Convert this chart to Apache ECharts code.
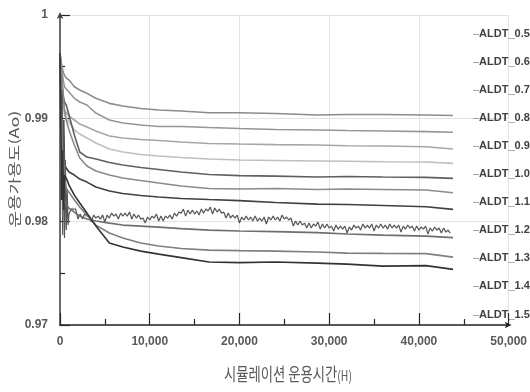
<!DOCTYPE html>
<html>
<head>
<meta charset="utf-8">
<script src="https://cdn.jsdelivr.net/npm/echarts@6/dist/echarts.min.js"></script>
<style>
html,body{margin:0;padding:0;background:#fff;}
#chart{width:530px;height:392px;}
</style>
</head>
<body>
<div id="chart"></div>
<script>
// ---- data ----
const seriesNames = ['ALDT_0.5','ALDT_0.6','ALDT_0.7','ALDT_0.8','ALDT_0.9','ALDT_1.0','ALDT_1.1','ALDT_1.2','ALDT_1.3','ALDT_1.4','ALDT_1.5'];
const xTicks = [0, 10000, 20000, 30000, 40000, 50000];
const yTicks = [0.97, 0.98, 0.99, 1];

const timeMain = [0, 100, 200, 300, 400, 500, 700, 1000, 1600, 2200, 3000, 4000, 5500, 7000, 9000, 11000, 13500, 16600, 20000, 24000, 28700, 32000, 36000, 40800, 43800];

const aldt05 = [0.99632, 0.99565, 0.99506, 0.99468, 0.99439, 0.99419, 0.99390, 0.99371, 0.99306, 0.99274, 0.99242, 0.99194, 0.99145, 0.99119, 0.99095, 0.99080, 0.99071, 0.99054, 0.99054, 0.99047, 0.99032, 0.99037, 0.99037, 0.99032, 0.99027];
const aldt06 = [0.99632, 0.99545, 0.99468, 0.99409, 0.99351, 0.99306, 0.99284, 0.99255, 0.99194, 0.99158, 0.99129, 0.99051, 0.98984, 0.98955, 0.98935, 0.98921, 0.98921, 0.98911, 0.98901, 0.98892, 0.98887, 0.98882, 0.98877, 0.98871, 0.98865];
const aldt07 = [0.99632, 0.99468, 0.99351, 0.99226, 0.99138, 0.99080, 0.99051, 0.99022, 0.98984, 0.98945, 0.98916, 0.98877, 0.98829, 0.98810, 0.98795, 0.98785, 0.98771, 0.98756, 0.98751, 0.98746, 0.98742, 0.98735, 0.98732, 0.98725, 0.98703];
const aldt08 = [0.99632, 0.99419, 0.99274, 0.99177, 0.99100, 0.99032, 0.99003, 0.98964, 0.98887, 0.98848, 0.98809, 0.98761, 0.98703, 0.98674, 0.98650, 0.98635, 0.98621, 0.98606, 0.98597, 0.98592, 0.98587, 0.98584, 0.98580, 0.98577, 0.98564];
const aldt09 = [0.99632, 0.99487, 0.99371, 0.99274, 0.99197, 0.99158, 0.99129, 0.99032, 0.98838, 0.98674, 0.98625, 0.98606, 0.98572, 0.98548, 0.98524, 0.98505, 0.98480, 0.98456, 0.98446, 0.98441, 0.98432, 0.98437, 0.98432, 0.98429, 0.98419];
const aldt10 = [0.99632, 0.99516, 0.99390, 0.99274, 0.99177, 0.99080, 0.98984, 0.98887, 0.98742, 0.98616, 0.98538, 0.98490, 0.98451, 0.98422, 0.98398, 0.98374, 0.98345, 0.98321, 0.98316, 0.98321, 0.98311, 0.98316, 0.98311, 0.98306, 0.98280];
const aldt11 = [0.99632, 0.98790, 0.99226, 0.98499, 0.98984, 0.98548, 0.98519, 0.98480, 0.98451, 0.98412, 0.98383, 0.98335, 0.98296, 0.98272, 0.98253, 0.98238, 0.98224, 0.98214, 0.98204, 0.98185, 0.98170, 0.98166, 0.98156, 0.98144, 0.98119];
const aldt13 = [0.99632, 0.98403, 0.99080, 0.98064, 0.98693, 0.98209, 0.98161, 0.98132, 0.98093, 0.98054, 0.98025, 0.98006, 0.97986, 0.97967, 0.97957, 0.97947, 0.97933, 0.97918, 0.97909, 0.97904, 0.97894, 0.97880, 0.97870, 0.97860, 0.97846];
const aldt14 = [0.99632, 0.98499, 0.98984, 0.98209, 0.98596, 0.98403, 0.98325, 0.98286, 0.98209, 0.98141, 0.98064, 0.97967, 0.97890, 0.97841, 0.97793, 0.97764, 0.97740, 0.97725, 0.97720, 0.97715, 0.97706, 0.97696, 0.97693, 0.97691, 0.97657];
const aldt15 = [0.99632, 0.98887, 0.98209, 0.98693, 0.98112, 0.98451, 0.98422, 0.98354, 0.98257, 0.98180, 0.98083, 0.97957, 0.97793, 0.97754, 0.97715, 0.97686, 0.97652, 0.97609, 0.97604, 0.97609, 0.97599, 0.97589, 0.97570, 0.97575, 0.97538];

// ALDT_1.2 : noisy series, sampled densely
const time12 = [0, 100, 200, 300, 400, 500, 600, 700, 800, 900,
  1000, 1250, 1500, 1750, 2000, 2250, 2500, 2750, 3000, 3250, 3500, 3750, 4000, 4250, 4500, 4750,
  5000, 5250, 5500, 5750, 6000, 6250, 6500, 6750, 7000, 7250, 7500, 7750, 8000, 8250, 8500, 8750,
  9000, 9250, 9500, 9750, 10000, 10250, 10500, 10750, 11000, 11250, 11500, 11750, 12000, 12250, 12500, 12750,
  13000, 13250, 13500, 13750, 14000, 14250, 14500, 14750, 15000, 15250, 15500, 15750, 16000, 16250, 16500, 16750,
  17000, 17250, 17500, 17750, 18000, 18250, 18500, 18750, 19000, 19250, 19500, 19750, 20000, 20250, 20500, 20750,
  21000, 21250, 21500, 21750, 22000, 22250, 22500, 22750, 23000, 23250, 23500, 23750, 24000, 24250, 24500, 24750,
  25000, 25250, 25500, 25750, 26000, 26250, 26500, 26750, 27000, 27250, 27500, 27750, 28000, 28250, 28500, 28750,
  29000, 29250, 29500, 29750, 30000, 30250, 30500, 30750, 31000, 31250, 31500, 31750, 32000, 32250, 32500, 32750,
  33000, 33250, 33500, 33750, 34000, 34250, 34500, 34750, 35000, 35250, 35500, 35750, 36000, 36250, 36500, 36750,
  37000, 37250, 37500, 37750, 38000, 38250, 38500, 38750, 39000, 39250, 39500, 39750, 40000, 40250, 40500, 40750,
  41000, 41250, 41500, 41750, 42000, 42250, 42500, 42750, 43000, 43250, 43500];
const aldt12 = [0.99632, 0.98209, 0.99274, 0.97870, 0.98984, 0.97841, 0.98596, 0.97919, 0.98306, 0.97967,
  0.98074, 0.98122, 0.98122, 0.98122, 0.98025, 0.98074, 0.98025, 0.98074, 0.98054, 0.98054, 0.97996, 0.98064, 0.98035, 0.98054, 0.98025, 0.98064,
  0.97996, 0.98064, 0.98035, 0.98083, 0.98054, 0.98074, 0.98025, 0.98083, 0.98054, 0.98083, 0.98054, 0.98093, 0.98025, 0.98074, 0.98035, 0.98064,
  0.98025, 0.98035, 0.97986, 0.98045, 0.98016, 0.98054, 0.98035, 0.98074, 0.98006, 0.98054, 0.98006, 0.98054, 0.98035, 0.98064, 0.98025, 0.98083,
  0.98054, 0.98093, 0.98083, 0.98122, 0.98054, 0.98112, 0.98074, 0.98112, 0.98074, 0.98103, 0.98064, 0.98122, 0.98083, 0.98122, 0.98103, 0.98141,
  0.98074, 0.98132, 0.98093, 0.98122, 0.98083, 0.98093, 0.98035, 0.98083, 0.98035, 0.98064, 0.98035, 0.98064, 0.97986, 0.98045, 0.98016, 0.98054,
  0.98016, 0.98045, 0.98006, 0.98054, 0.98006, 0.98035, 0.98006, 0.98045, 0.97977, 0.98045, 0.98016, 0.98054, 0.98016, 0.98045, 0.98006, 0.98064,
  0.98025, 0.98045, 0.98016, 0.98035, 0.97957, 0.98006, 0.97967, 0.98006, 0.97967, 0.97986, 0.97938, 0.97986, 0.97938, 0.97977, 0.97957, 0.97996,
  0.97928, 0.97977, 0.97938, 0.97977, 0.97938, 0.97957, 0.97909, 0.97967, 0.97928, 0.97957, 0.97928, 0.97957, 0.97890, 0.97948, 0.97919, 0.97967,
  0.97938, 0.97957, 0.97919, 0.97977, 0.97938, 0.97967, 0.97938, 0.97977, 0.97909, 0.97967, 0.97938, 0.97977, 0.97938, 0.97967, 0.97928, 0.97977,
  0.97938, 0.97967, 0.97938, 0.97967, 0.97899, 0.97957, 0.97928, 0.97967, 0.97938, 0.97957, 0.97909, 0.97957, 0.97919, 0.97948, 0.97928, 0.97957,
  0.97880, 0.97938, 0.97909, 0.97948, 0.97919, 0.97938, 0.97890, 0.97938, 0.97899, 0.97919, 0.97890];

const seriesValues = [aldt05, aldt06, aldt07, aldt08, aldt09, aldt10, aldt11, aldt12, aldt13, aldt14, aldt15];
const seriesTimes  = [timeMain, timeMain, timeMain, timeMain, timeMain, timeMain, timeMain, time12, timeMain, timeMain, timeMain];
const seriesColors = ['#8c8c8c','#969696','#a6a6a6','#bfbfbf','#5f5f5f','#8a8a8a','#404040','#555555','#6e6e6e','#7f7f7f','#333333'];

// ---- chart ----
const LAT = "'Liberation Sans','Arial',sans-serif";
const KR = "'Noto Sans CJK KR','Noto Sans',sans-serif";
const chart = echarts.init(document.getElementById('chart'), null, {renderer:'canvas'});

const series = seriesNames.map((name, k) => ({
  name: name,
  type: 'line',
  showSymbol: false,
  symbol: 'none',
  smooth: false,
  animation: false,
  lineStyle: { color: seriesColors[k], width: k === 7 ? 1.2 : 1.6 },
  itemStyle: { color: seriesColors[k] },
  data: seriesTimes[k].map((t, i) => [t, seriesValues[k][i]])
}));

const option = {
  animation: false,
  grid: { left: 60, right: 17, top: 15, bottom: 67, containLabel: false },
  legend: {
    orient: 'vertical',
    left: 463, top: 21.5,
    icon: 'none',
    itemWidth: 0, itemHeight: 14, itemGap: 14.1,
    data: seriesNames,
    formatter: n => '{d|\u2013}{n|' + n + '}',
    textStyle: {
      fontFamily: LAT, fontSize: 11, color: '#404040', lineHeight: 14,
      rich: {
        d: { color: '#8c8c8c', fontFamily: LAT, fontSize: 11 },
        n: { color: '#404040', fontFamily: LAT, fontSize: 11, fontWeight: 'bold' }
      }
    }
  },
  xAxis: {
    type: 'value', min: xTicks[0], max: xTicks[xTicks.length - 1], interval: 10000,
    axisLine: { show: true, lineStyle: { color: '#262626', width: 1.5 }, symbol: ['none', 'arrow'], symbolSize: [5, 7], symbolOffset: [0, 3] },
    axisTick: { show: true, inside: true, length: 12, lineStyle: { color: '#262626', width: 1.2 } },
    minorTick: { show: true, splitNumber: 2, length: 6, lineStyle: { color: '#262626', width: 1.2 } },
    splitLine: { show: true, lineStyle: { color: '#e3e3e3', width: 1 } },
    axisLabel: {
      margin: 11, color: '#595959', fontFamily: LAT, fontSize: 12, fontWeight: 'bold',
      formatter: v => String(v).replace(/\B(?=(\d{3})+(?!\d))/g, ',')
    }
  },
  yAxis: {
    type: 'value', min: yTicks[0], max: yTicks[yTicks.length - 1], interval: 0.01,
    axisLine: { show: true, lineStyle: { color: '#404040', width: 1.5 }, symbol: ['none', 'arrow'], symbolSize: [5, 7], symbolOffset: [0, 3] },
    axisTick: { show: true, inside: true, length: 10, lineStyle: { color: '#262626', width: 1.2 } },
    minorTick: { show: true, splitNumber: 2, length: 5, lineStyle: { color: '#262626', width: 1.2 } },
    splitLine: { show: true, lineStyle: { color: '#e3e3e3', width: 1 } },
    axisLabel: {
      margin: 12, color: '#595959', fontFamily: LAT, fontSize: 12, fontWeight: 'bold',
      formatter: v => String(Math.round(v * 100) / 100)
    }
  },
  graphic: [
    {
      type: 'text', x: 288, y: 374, scaleX: 0.74, silent: true,
      style: {
        text: '시뮬레이션 운용시간{s|(H)}',
        align: 'center', verticalAlign: 'middle', textAlign: 'center', textVerticalAlign: 'middle',
        font: '18px ' + KR, fill: '#595959',
        rich: { s: { fontSize: 14, fontFamily: KR, fill: '#595959', color: '#595959', padding: [4, 0, 0, 0] } }
      }
    },
    {
      type: 'text', x: 14, y: 169, rotation: Math.PI / 2, scaleY: 0.72, silent: true,
      style: {
        text: '운용가용도(Ao)',
        align: 'center', verticalAlign: 'middle', textAlign: 'center', textVerticalAlign: 'middle',
        font: '18px ' + KR, fill: '#595959'
      }
    }
  ],
  series: series
};
chart.setOption(option);
</script>
</body>
</html>
